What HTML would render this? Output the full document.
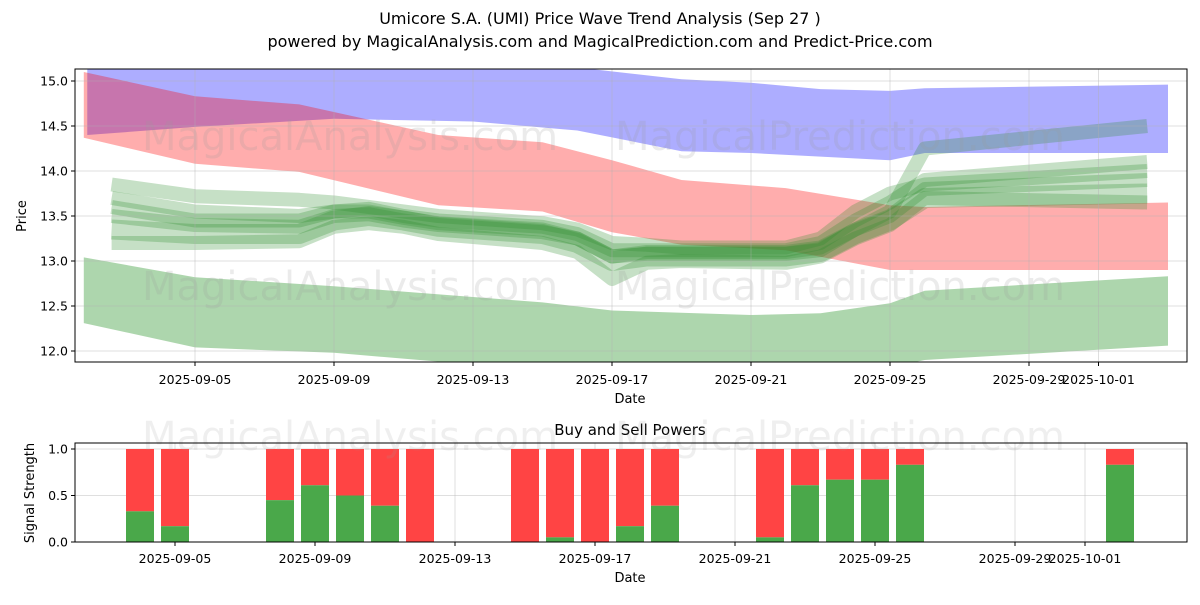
<!DOCTYPE html>
<html><head><meta charset="utf-8"><style>
body{margin:0;background:#fff;font-family:"Liberation Sans","DejaVu Sans",sans-serif;}
svg text{font-family:"DejaVu Sans","Liberation Sans",sans-serif;}
</style></head><body>
<svg id="c" width="1200" height="600"></svg>
<script>
const dates=["2025-09-05","2025-09-09","2025-09-13","2025-09-17","2025-09-21","2025-09-25","2025-09-29","2025-10-01"];
const yTicks=[12.0,12.5,13.0,13.5,14.0,14.5,15.0];
const blueDays=[1.9,5,9,13,16,19,21,23,25,26,33];
const blueTop=[15.3,15.25,15.25,15.2,15.15,15.02,14.98,14.91,14.89,14.92,14.96];
const blueBot=[14.4,14.49,14.58,14.55,14.45,14.22,14.2,14.16,14.12,14.2,14.2];
const redDays=[1.8,5,8,12,15,17,19,22,25,26,33];
const redTop=[15.1,14.83,14.74,14.4,14.32,14.12,13.9,13.81,13.62,13.6,13.65];
const redBot=[14.37,14.08,13.99,13.62,13.55,13.32,13.18,13.12,12.9,12.9,12.9];
const lgDays=[1.8,5,9,13,15,17,21,23,25,26,33];
const lgTop=[13.04,12.82,12.72,12.6,12.54,12.45,12.4,12.42,12.53,12.67,12.83];
const lgBot=[12.31,12.04,11.98,11.85,11.83,11.82,11.82,11.82,11.82,11.9,12.06];
const waveDays=[2.6,5,8,9,10,11,12,15,16,17,18,19,22,23,24,25,26,32.4];
const wave1=[13.35,13.3,13.3,13.45,13.5,13.45,13.38,13.3,13.2,13.0,13.05,13.05,13.05,13.1,13.3,13.45,13.7,13.75];
const wave2=[13.5,13.4,13.38,13.5,13.52,13.45,13.4,13.32,13.25,13.05,13.1,13.1,13.1,13.15,13.35,13.55,14.25,14.5];
const wave3=[13.7,13.55,13.5,13.55,13.58,13.5,13.45,13.38,13.3,13.12,13.12,13.12,13.12,13.2,13.45,13.65,13.9,14.1];
const wave4=[13.85,13.72,13.68,13.65,13.6,13.55,13.5,13.42,13.35,13.2,13.18,13.15,13.15,13.25,13.55,13.75,13.85,14.0];
const wave5=[13.2,13.2,13.22,13.38,13.42,13.38,13.3,13.2,13.1,12.8,12.98,13.0,12.98,13.05,13.25,13.4,13.7,13.65];
const wave6=[13.6,13.45,13.45,13.55,13.55,13.48,13.42,13.35,13.25,13.05,13.08,13.08,13.08,13.12,13.35,13.5,13.8,13.9];
const barDays=[4,5,8,9,10,11,12,15,16,17,18,19,22,23,24,25,26,32];
const buyVals=[0.33,0.17,0.45,0.61,0.5,0.39,0,0,0.05,0,0.17,0.39,0.05,0.61,0.67,0.67,0.83,0.83];
const sbTicks=[0.0,0.5,1.0];

const svg=document.getElementById('c');const NS='http://www.w3.org/2000/svg';
function el(t,a,p){const e=document.createElementNS(NS,t);for(const k in a)e.setAttribute(k,a[k]);(p||svg).appendChild(e);return e;}
function txt(x,y,s,sz,anchor,extra){const e=el('text',Object.assign({x:x,y:y,'font-size':sz,'text-anchor':anchor||'middle',fill:'#000'},extra||{}));e.textContent=s;return e;}
const L=75,R=1187;
function xd(d){return 195+(d-5)*34.75;}
function xb(d){return 175+(d-5)*35;}
function dayOf(s){const p=s.split('-');const m=+p[1],d=+p[2];return m===9?d:30+d;}
function yp(v){return 351-(v-12)*90;}
function yb(v){return 542-v*93;}
let t=txt(600,24,"Umicore S.A. (UMI) Price Wave Trend Analysis (Sep 27 )",16);

t=txt(600,47,"powered by MagicalAnalysis.com and MagicalPrediction.com and Predict-Price.com",16);

el('clipPath',{id:'cp1'}).appendChild(el('rect',{x:L,y:69,width:R-L,height:293}));
const g=el('g',{'clip-path':'url(#cp1)'});

function band(days,top,bot,color,op,name){
 let d='M'+days.map((x,i)=>xd(x)+','+yp(top[i])).join('L');
 for(let i=days.length-1;i>=0;i--)d+='L'+xd(days[i])+','+yp(bot[i]);
 const p=el('path',{d:d+'Z',fill:color,'fill-opacity':op},g);
 
}
band(blueDays,blueTop,blueBot,'#0000ff',0.32,'blue-band');
band(lgDays,lgTop,lgBot,'#008000',0.32,'lower-green-band');
band(redDays,redTop,redBot,'#ff0000',0.32,'red-band');
[wave1,wave2,wave3,wave4,wave5,wave6].forEach((w,k)=>{
 const p=el('polyline',{points:waveDays.map((x,i)=>xd(x)+','+yp(w[i])).join(' '),fill:'none',stroke:'#2e8b2e','stroke-opacity':0.27,'stroke-width':k===0?20:14,'stroke-linejoin':'round'},g);
 
});
dates.forEach(s=>{const x=xd(dayOf(s));el('line',{x1:x,x2:x,y1:69,y2:362,stroke:'#b0b0b0','stroke-opacity':0.4});el('line',{x1:x,x2:x,y1:362,y2:366,stroke:'#000'});
 const e=txt(x,384,s,12.5);});
yTicks.forEach(v=>{const y=yp(v);el('line',{x1:L,x2:R,y1:y,y2:y,stroke:'#b0b0b0','stroke-opacity':0.4});el('line',{x1:L-4,x2:L,y1:y,y2:y,stroke:'#000'});
 const e=txt(L-7,y+4.5,v.toFixed(1),12.5,'end');});
el('rect',{x:L,y:69,width:R-L,height:293,fill:'none',stroke:'#000'});
t=txt(630,403,"Date",13);
t=txt(26,216,"Price",13,'middle',{transform:'rotate(-90 26 216)'});
[[350,150],[840,150],[350,300],[840,300]].forEach(([x,y],i)=>{const e=txt(x,y,i%2?"MagicalPrediction.com":"MagicalAnalysis.com",40,'middle',{fill:'#999','fill-opacity':0.2});});
t=txt(630,435,"Buy and Sell Powers",15);
dates.forEach(s=>{const x=xb(dayOf(s));el('line',{x1:x,x2:x,y1:443,y2:542,stroke:'#b0b0b0','stroke-opacity':0.4});el('line',{x1:x,x2:x,y1:542,y2:546,stroke:'#000'});
 const e=txt(x,563,s,12.5);});
sbTicks.forEach(v=>{const y=yb(v);el('line',{x1:L,x2:R,y1:y,y2:y,stroke:'#b0b0b0','stroke-opacity':0.4});el('line',{x1:L-4,x2:L,y1:y,y2:y,stroke:'#000'});
 const e=txt(L-7,y+4.5,v.toFixed(1),12.5,'end');});
barDays.forEach((d,i)=>{const x=xb(d)-14;
 const r=el('rect',{x:x,y:yb(1),width:28,height:yb(buyVals[i])-yb(1),fill:'#ff4444'});
 
 const b=el('rect',{x:x,y:yb(buyVals[i]),width:28,height:yb(0)-yb(buyVals[i]),fill:'#4aa84a'});
 });
[[350,450],[840,450]].forEach(([x,y],i)=>{const e=txt(x,y,i?"MagicalPrediction.com":"MagicalAnalysis.com",40,'middle',{fill:'#999','fill-opacity':0.16});});
el('rect',{x:L,y:443,width:R-L,height:99,fill:'none',stroke:'#000'});
t=txt(630,582,"Date",13);
t=txt(34,493,"Signal Strength",13,'middle',{transform:'rotate(-90 34 493)'});
</script>
</body></html>
